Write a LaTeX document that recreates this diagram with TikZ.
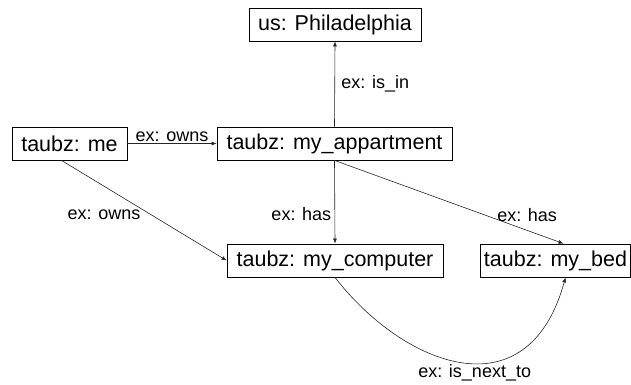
\documentclass[tikz,border=0pt]{standalone}
\usepackage{fontspec}
\setmainfont{Liberation Sans}
\usetikzlibrary{arrows.meta}

\begin{document}
\begin{tikzpicture}[x=1pt,y=-1pt]
  \tikzstyle{res}  =[draw, rectangle, line width=0.8pt, minimum height=33pt, inner sep=0pt, font=\fontsize{21.5}{24}\selectfont]
  \tikzstyle{prop} =[font=\fontsize{18}{20}\selectfont]
  \tikzstyle{link} =[-{Latex[length=5pt,width=4pt]}, line width=0.6pt, draw=black!85]
  \useasboundingbox (0,0) rectangle (631,384);
  \node[res, minimum width=172pt](phil) at (335  ,24.5 ) {us: Philadelphia};
  \node[res, minimum width=115pt](me)   at (69.5 ,143.5) {taubz: me};
  \node[res, minimum width=235pt](appt) at (334.5,143.5) {taubz: my\_appartment};
  \node[res, minimum width=216pt](comp) at (335  ,260.5) {taubz: my\_computer};
  \node[res, minimum width=150pt](bed)  at (555.5,260.5) {taubz: my\_bed};
  \draw[link] (me.east) -- (appt.west) node[prop, midway, above, yshift=-2pt]{ex: owns};
  \draw[link] (appt.north) -- (phil.south) node[prop, midway, right, xshift=3pt]{ex: is\_in};
  \draw[link] ([xshift=-8pt]me.south) -- (comp.west) node[prop, pos=0.5, left, yshift=-4pt]{ex: owns};
  \draw[link] (appt.south) -- (comp.north) node[prop, pos=0.65, left]{ex: has};
  \draw[link] (appt.south) -- ([xshift=8pt]bed.north) node[prop, pos=0.85, above, yshift=6pt, xshift=-2pt]{ex: has};
  \draw[link] (comp.south) .. controls +(68,88) and +(-38,138) .. ([xshift=10pt]bed.south)
    node[prop, pos=0.55, below, inner sep=1pt]{ex: is\_next\_to};
\end{tikzpicture}
\end{document}
